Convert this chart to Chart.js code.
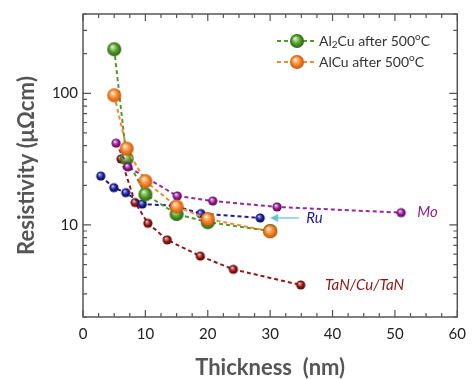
<!DOCTYPE html>
<html><head><meta charset="utf-8">
<script src="https://cdn.jsdelivr.net/npm/chart.js@4/dist/chart.umd.min.js"></script>
<style>html,body{margin:0;padding:0;background:#fff}#wrap{width:474px;height:379px}</style>
</head><body><div id="wrap"><canvas id="c" width="474" height="379"></canvas></div>
<script>
// ---- data ----
const al2cuX = [5, 7, 10, 15, 20, 30];
const al2cuY = [216, 31.9, 17.1, 12.1, 10.5, 9.0];
const alcuX = [5, 7, 10, 15, 20, 30];
const alcuY = [96.6, 38, 21.5, 13.8, 11.1, 8.95];
const moX = [5.3, 7.2, 15.1, 20.8, 31.1, 51];
const moY = [41.8, 27.6, 16.6, 15.2, 13.7, 12.4];
const ruX = [2.85, 4.94, 6.86, 9.5, 14.6, 18.9, 28.4];
const ruY = [23.5, 19.2, 17.6, 14.4, 14.0, 12.2, 11.3];
const tanX = [6.1, 8.35, 10.4, 13.5, 18.8, 24.1, 34.9];
const tanY = [31.7, 14.8, 10.3, 7.7, 5.8, 4.6, 3.5];
const xTicks = [0, 10, 20, 30, 40, 50, 60];
const yLabelTicks = [10, 100];
const seriesNames = ['Al2Cu after 500\u00BAC', 'AlCu after 500\u00BAC', 'Mo', 'Ru', 'TaN/Cu/TaN'];

function pts(xs, ys){ return xs.map((x,i)=>({x:x, y:ys[i]})); }

function sphere(r, light, base, dark){
  const s = Math.ceil(r*2+2);
  const c = document.createElement('canvas');
  c.width = s; c.height = s;
  const g = c.getContext('2d');
  const cx = s/2, cy = s/2;
  const grad = g.createRadialGradient(cx - r*0.3, cy - r*0.4, 0, cx, cy, r);
  grad.addColorStop(0, '#ffffff');
  grad.addColorStop(0.18, light);
  grad.addColorStop(0.6, base);
  grad.addColorStop(1, dark);
  g.fillStyle = grad;
  g.beginPath(); g.arc(cx, cy, r, 0, Math.PI*2); g.fill();
  return c;
}
const sGreen = sphere(7, '#b8e090', '#4f9a2a', '#2b6412');
const sOrange = sphere(7, '#ffd0a0', '#f7832a', '#c45a08');
const sPurple = sphere(4.6, '#e0a0e0', '#901c90', '#560456');
const sNavy = sphere(4.6, '#9090e0', '#1c1c96', '#08085a');
const sRed = sphere(4.6, '#e09090', '#8e1616', '#560606');

function ds(label, data, color, img){
  return {label, data, borderColor: color, borderWidth: 2, borderDash: [4,3],
    pointStyle: img, pointRadius: img.width/2, pointHoverRadius: img.width/2,
    showLine: true, fill: false, tension: 0};
}

const datasets = [
  ds(seriesNames[1], pts(alcuX, alcuY), '#f0883a', sOrange),
  ds(seriesNames[2], pts(moX, moY), '#982898', sPurple),
  ds(seriesNames[0], pts(al2cuX, al2cuY), '#4f9a2a', sGreen),
  ds(seriesNames[3], pts(ruX, ruY), '#1c1c96', sNavy),
  ds(seriesNames[4], pts(tanX, tanY), '#8e1a1a', sRed)
];

const FONT = 'Lato, "Open Sans", sans-serif';

const frame = {
  id: 'frame',
  afterDatasetsDraw(chart){
    const {ctx, chartArea: a, scales: {x, y}} = chart;
    ctx.save();
    ctx.strokeStyle = '#555';
    ctx.lineWidth = 1.5;
    ctx.strokeRect(a.left, a.top, a.right - a.left, a.bottom - a.top);
    ctx.lineWidth = 1.2;
    ctx.beginPath();
    for (let v = 0; v <= 60.001; v += 2.5){
      const px = x.getPixelForValue(v);
      const len = (Math.abs(v % 10) < 0.01) ? 7 : 4;
      ctx.moveTo(px, a.bottom); ctx.lineTo(px, a.bottom - len);
      ctx.moveTo(px, a.top); ctx.lineTo(px, a.top + len);
    }
    for (let d = 1; d <= 100; d *= 10){
      for (let m = 1; m <= 9; m++){
        const v = m*d;
        if (v < 2 || v > 400) continue;
        const py = y.getPixelForValue(v);
        const len = (m === 1) ? 8 : 4;
        ctx.moveTo(a.left, py); ctx.lineTo(a.left + len, py);
        ctx.moveTo(a.right, py); ctx.lineTo(a.right - len, py);
      }
    }
    ctx.stroke();

    // annotations
    ctx.font = 'italic 15px ' + FONT;
    ctx.textBaseline = 'middle';
    ctx.textAlign = 'left';
    ctx.fillStyle = '#901c90';
    ctx.fillText('Mo', x.getPixelForValue(53.6), y.getPixelForValue(12.6));
    ctx.fillStyle = '#1c1c96';
    ctx.fillText('Ru', x.getPixelForValue(35.8), y.getPixelForValue(11.3));
    ctx.fillStyle = '#8e1616';
    ctx.fillText('TaN/Cu/TaN', x.getPixelForValue(38.8), y.getPixelForValue(3.5));
    // arrow
    const ay = y.getPixelForValue(11.3);
    const ax0 = x.getPixelForValue(34.6), ax1 = x.getPixelForValue(30.0);
    ctx.strokeStyle = '#66c8cc'; ctx.fillStyle = '#66c8cc'; ctx.lineWidth = 1.3;
    ctx.beginPath(); ctx.moveTo(ax0, ay); ctx.lineTo(ax1 + 5, ay); ctx.stroke();
    ctx.beginPath(); ctx.moveTo(ax1, ay); ctx.lineTo(ax1 + 8, ay - 4); ctx.lineTo(ax1 + 8, ay + 4); ctx.closePath(); ctx.fill();

    // legend
    const items = [[datasets[2], sGreen, 'Al', '2', 'Cu after 500', 'C'], [datasets[0], sOrange, 'AlCu after 500', '', '', 'C']];
    const big = '14px ' + FONT, small = '10px ' + FONT;
    items.forEach((it, i) => {
      const ly = 41 + i*21;
      const mx = 297;
      ctx.strokeStyle = it[0].borderColor; ctx.lineWidth = 2; ctx.setLineDash([4,3]);
      ctx.beginPath(); ctx.moveTo(277, ly); ctx.lineTo(291, ly); ctx.moveTo(303, ly); ctx.lineTo(316, ly); ctx.stroke();
      ctx.setLineDash([]);
      ctx.drawImage(it[1], mx - it[1].width/2, ly - it[1].height/2);
      ctx.fillStyle = '#333';
      ctx.textBaseline = 'middle';
      let tx = 319;
      ctx.font = big;
      ctx.fillText(it[2], tx, ly); tx += ctx.measureText(it[2]).width;
      if (it[3]){ ctx.font = small; ctx.fillText(it[3], tx, ly + 4); tx += ctx.measureText(it[3]).width; ctx.font = big; ctx.fillText(it[4], tx, ly); tx += ctx.measureText(it[4]).width; }
      ctx.font = small; ctx.fillText('o', tx, ly - 4); tx += ctx.measureText('o').width;
      ctx.font = big; ctx.fillText(it[5], tx, ly);
    });
    ctx.restore();
  }
};

new Chart(document.getElementById('c'), {
  type: 'scatter',
  data: { datasets },
  options: {
    responsive: false, animation: false,
    layout: { padding: { top: 11, right: 8, left: 0, bottom: 0 } },
    plugins: { legend: { display: false }, tooltip: { enabled: false } },
    scales: {
      x: {
        type: 'linear', min: 0, max: 60,
        afterBuildTicks: (s) => { s.ticks = xTicks.map(v => ({value: v})); },
        grid: { display: false, drawTicks: false }, border: { display: false },
        ticks: { padding: 8, color: '#222', font: { family: FONT, size: 15 } },
        title: { display: true, text: 'Thickness  (nm)', color: '#555', padding: { top: 0, bottom: 0 },
          font: { family: FONT, size: 22, weight: 'bold', lineHeight: 1 } },
        afterFit: (s) => { s.height = 62; }
      },
      y: {
        type: 'logarithmic', min: 2, max: 400,
        afterBuildTicks: (s) => { s.ticks = yLabelTicks.map(v => ({value: v})); },
        grid: { display: false, drawTicks: false }, border: { display: false },
        ticks: { padding: 5, color: '#222', autoSkip: false, callback: (v) => String(v),
          font: { family: FONT, size: 15 } },
        title: { display: true, text: 'Resistivity (\u03BC\u03A9cm)', color: '#555', padding: { top: 16, bottom: 0 },
          font: { family: FONT, size: 22, weight: 'bold', lineHeight: 1 } },
        afterFit: (s) => { s.width = 83; }
      }
    }
  },
  plugins: [frame]
});
</script>
</body></html>
